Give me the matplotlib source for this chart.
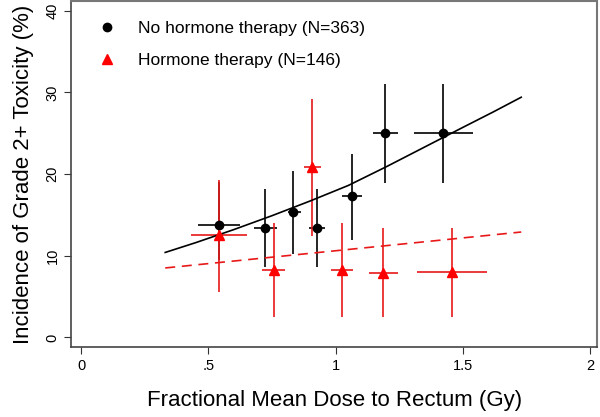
import matplotlib
matplotlib.use("Agg")
import matplotlib.pyplot as plt

plt.rcParams['font.family'] = ['Liberation Sans', 'DejaVu Sans']

# No hormone therapy: binned incidence with 95% CI
nh_x = [0.543, 0.724, 0.833, 0.928, 1.063, 1.195, 1.424]
nh_y = [13.7, 13.4, 15.4, 13.4, 17.3, 25.0, 25.0]
nh_xlo = [0.459, 0.680, 0.813, 0.895, 1.024, 1.146, 1.308]
nh_xhi = [0.626, 0.768, 0.862, 0.960, 1.105, 1.244, 1.539]
nh_ylo = [9.5, 8.6, 10.2, 8.6, 11.9, 18.9, 18.9]
nh_yhi = [19.0, 18.2, 20.4, 18.2, 22.5, 31.0, 31.0]

# Hormone therapy
ht_x = [0.541, 0.756, 0.908, 1.024, 1.188, 1.457]
ht_y = [12.5, 8.2, 20.8, 8.3, 7.9, 8.0]
ht_xlo = [0.433, 0.710, 0.876, 0.982, 1.130, 1.320]
ht_xhi = [0.650, 0.800, 0.941, 1.067, 1.244, 1.594]
ht_ylo = [5.6, 2.5, 12.4, 2.5, 2.5, 2.5]
ht_yhi = [19.3, 14.0, 29.2, 14.0, 13.4, 13.4]

# fitted curves
fit_nh_x = [0.33, 0.45, 0.6, 0.75, 0.9, 1.05, 1.2, 1.35, 1.5, 1.62, 1.73]
fit_nh_y = [10.4, 11.6, 13.2, 14.9, 16.7, 18.6, 20.9, 23.3, 25.7, 27.6, 29.4]
fit_ht_x = [0.33, 1.03, 1.73]
fit_ht_y = [8.5, 10.7, 12.9]

xticks = [0, 0.5, 1, 1.5, 2]
xtick_labels = ['0', '.5', '1', '1.5', '2']
yticks = [0, 10, 20, 30, 40]

fig = plt.figure(figsize=(6, 4.17), dpi=100)
ax = fig.add_axes([0.119, 0.167, 0.876, 0.831])

def err(c, lo, hi):
    return [[c[i] - lo[i] for i in range(len(c))], [hi[i] - c[i] for i in range(len(c))]]

ax.errorbar(nh_x, nh_y, xerr=err(nh_x, nh_xlo, nh_xhi), yerr=err(nh_y, nh_ylo, nh_yhi),
            fmt='none', ecolor='black', elinewidth=1.2, capsize=0, zorder=2)
ax.errorbar(ht_x, ht_y, xerr=err(ht_x, ht_xlo, ht_xhi), yerr=err(ht_y, ht_ylo, ht_yhi),
            fmt='none', ecolor='#e81818', elinewidth=1.2, capsize=0, zorder=3)

ax.plot(fit_nh_x, fit_nh_y, color='black', lw=1.2, zorder=4)
ax.plot(fit_ht_x, fit_ht_y, color='#e81818', lw=1.2, ls=(0, (6, 4)), zorder=4)

ax.plot(nh_x, nh_y, 'o', color='black', ms=6, ls='none', zorder=5,
        label='No hormone therapy (N=363)')
ax.plot(ht_x, ht_y, '^', color='red', ms=6.5, ls='none', zorder=5,
        label='Hormone therapy (N=146)')

ax.set_xlim(-0.039, 2.028)
ax.set_ylim(-1.22, 41.2)
ax.set_xticks(xticks)
ax.set_xticklabels(xtick_labels)
ax.set_yticks(yticks)
ax.tick_params(axis='both', labelsize=10.5, length=5, width=0.8, color='#333333')
for lab in ax.get_yticklabels():
    lab.set_rotation(90)
    lab.set_va('center')

for s in ['left', 'bottom']:
    ax.spines[s].set_color('#444444')
    ax.spines[s].set_linewidth(1.2)
for s in ['top', 'right']:
    ax.spines[s].set_color('#777777')
    ax.spines[s].set_linewidth(1.5)

ax.set_xlabel('Fractional Mean Dose to Rectum (Gy)', fontsize=16, labelpad=12)
ax.set_ylabel('Incidence of Grade 2+ Toxicity (%)', fontsize=16, labelpad=8)

ax.legend(loc='upper left', bbox_to_anchor=(0.0476, 0.943), frameon=False, fontsize=12.5,
          borderpad=0, borderaxespad=0,
          handletextpad=1.18, labelspacing=0.98, handlelength=1.2)

fig.savefig('out.png', dpi=100)
